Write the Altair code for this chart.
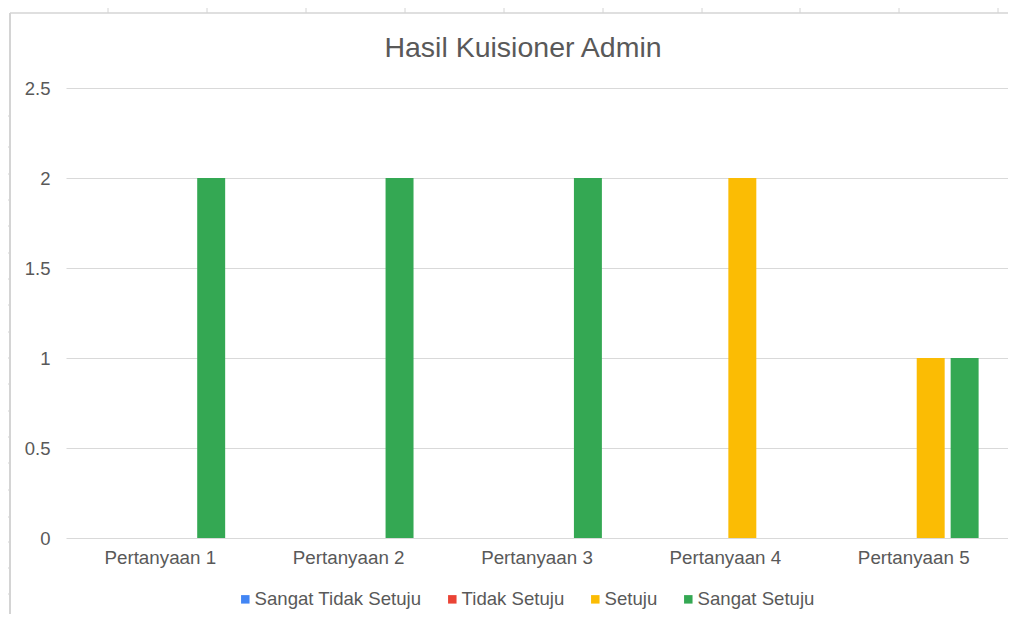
import altair as alt
import pandas as pd

# ---- data ----
title_text = "Hasil Kuisioner Admin"
questions = ["Pertanyaan 1", "Pertanyaan 2", "Pertanyaan 3", "Pertanyaan 4", "Pertanyaan 5"]
series = ["Sangat Tidak Setuju", "Tidak Setuju", "Setuju", "Sangat Setuju"]
sangat_tidak_setuju = [0, 0, 0, 0, 0]
tidak_setuju = [0, 0, 0, 0, 0]
setuju = [0, 0, 0, 2, 1]
sangat_setuju = [2, 2, 2, 0, 1]
y_ticks = [0, 0.5, 1, 1.5, 2, 2.5]

colors = ["#4285F4", "#EA4335", "#FBBC04", "#34A853"]
FONT = "Liberation Sans"
TXT = "#595959"

rows = []
for s, vals in zip(series, [sangat_tidak_setuju, tidak_setuju, setuju, sangat_setuju]):
    for q, v in zip(questions, vals):
        rows.append({"Pertanyaan": q, "Jawaban": s, "Jumlah": v})
df = pd.DataFrame(rows)

bars = alt.Chart(df).mark_bar().encode(
    x=alt.X("Pertanyaan:N", sort=questions,
            scale=alt.Scale(paddingInner=0.311, paddingOuter=0.156),
            axis=alt.Axis(title=None, labelAngle=0, domain=False, ticks=False, grid=False,
                          labelPadding=10, labelFontSize=18.8, labelFont=FONT, labelColor=TXT)),
    xOffset=alt.XOffset("Jawaban:N", sort=series,
                        scale=alt.Scale(paddingInner=0.176, paddingOuter=0)),
    y=alt.Y("Jumlah:Q", scale=alt.Scale(domain=[0, 2.5], nice=False),
            axis=alt.Axis(title=None, values=y_ticks, format="~g", domain=False, ticks=False,
                          labelPadding=16, labelFontSize=18.5, labelFont=FONT, labelColor=TXT,
                          gridColor="#d9d9d9", gridWidth=1)),
    color=alt.Color("Jawaban:N", sort=series,
                    scale=alt.Scale(domain=series, range=colors),
                    legend=alt.Legend(title=None, orient="none", direction="horizontal",
                                      legendX=170, legendY=502, symbolType="square",
                                      symbolSize=72, symbolStrokeWidth=0, labelLimit=0,
                                      labelFontSize=18.6, labelFont=FONT, labelColor=TXT,
                                      columnPadding=21, labelOffset=0)),
)

title = alt.Chart(pd.DataFrame({"t": [title_text]})).mark_text(
    font=FONT, fontSize=28.5, color=TXT, align="center", baseline="middle"
).encode(x=alt.value(457), y=alt.value(-40), text="t:N")

# ---- spreadsheet frame decoration (sheet edge lines and ruler ticks) ----
one = pd.DataFrame({"a": [0]})
decor = [
    alt.Chart(one).mark_rule(color="#d4d4d4", strokeWidth=1.5).encode(
        x=alt.value(-56), x2=alt.value(942), y=alt.value(-75)),
    alt.Chart(one).mark_rule(color="#d4d4d4", strokeWidth=2).encode(
        x=alt.value(-56), y=alt.value(-75), y2=alt.value(540)),
]
for px in [108, 207, 306, 405, 504, 603, 702, 800, 899, 998]:
    decor.append(alt.Chart(one).mark_rule(color="#d4d4d4", strokeWidth=1).encode(
        x=alt.value(px - 66), y=alt.value(-80), y2=alt.value(-75)))
for py in [116, 147, 174, 200, 226, 253, 279, 305, 332, 358, 384, 411, 437, 463, 490, 517, 542, 568, 594]:
    decor.append(alt.Chart(one).mark_rule(color="#d4d4d4", strokeWidth=1).encode(
        x=alt.value(-59), x2=alt.value(-56), y=alt.value(py - 88)))

chart = alt.layer(*decor, title, bars).properties(
    width=942,
    height=450,
    autosize=alt.AutoSizeParams(type="none"),
    padding={"left": 58, "top": 80, "right": 0, "bottom": 76},
    background="white",
).configure_view(stroke=None)

chart.save("out.html", embed_options={"renderer": "svg", "actions": False})
